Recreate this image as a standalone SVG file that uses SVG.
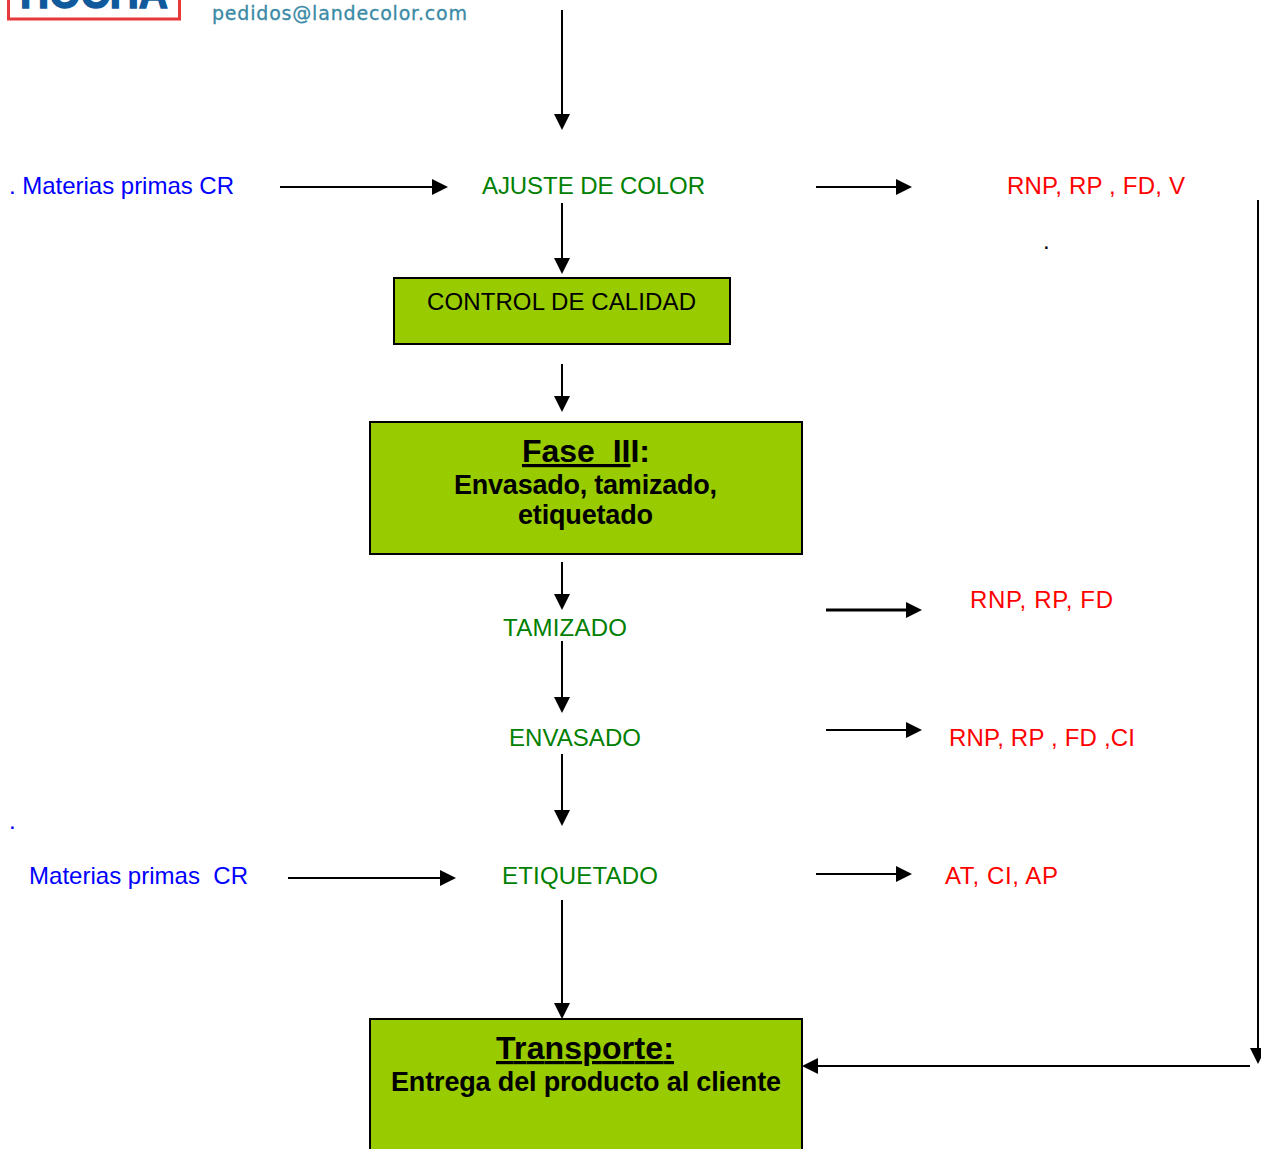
<svg xmlns="http://www.w3.org/2000/svg" width="1261" height="1149" viewBox="0 0 1261 1149">
<style>
text{font-family:"Liberation Sans",Arial,sans-serif;font-size:24px}
.b{fill:#0000ff}.g{fill:#008000}.r{fill:#ff0000}.k{fill:#000}
.box{fill:#99cc00;stroke:#000;stroke-width:2}
.c line{stroke:#000;stroke-width:2}
.h{font-size:32px;font-weight:bold}
.s{font-size:27px;font-weight:bold}
.m{text-anchor:middle}
</style>
<defs>
<marker id="a" markerUnits="userSpaceOnUse" markerWidth="16" markerHeight="16" refX="12" refY="8" orient="auto"><path d="M0 0L16 8L0 16Z" fill="#000"/></marker>
</defs>
<g id="logo">
<rect x="8.500" y="-20" width="171" height="39" fill="#fff" stroke="#e8393a" stroke-width="3"/>
<text x="20" y="8" textLength="148" lengthAdjust="spacingAndGlyphs" style="font-size:44px;font-weight:bold;fill:#0f5a9c;stroke:#0f5a9c;stroke-width:1.5">HOCHA</text>
<text x="212" y="20" textLength="255" style="font-size:19px;font-family:'DejaVu Sans',sans-serif;fill:#3a8aa6;stroke:#3a8aa6;stroke-width:.3">pedidos@landecolor.com</text>
</g>
<g class="c">
<line x1="562" y1="10" x2="562" y2="126" marker-end="url(#a)"/>
<line x1="280" y1="187" x2="444" y2="187" marker-end="url(#a)"/>
<line x1="816" y1="187" x2="908" y2="187" marker-end="url(#a)"/>
<line x1="562" y1="203" x2="562" y2="270" marker-end="url(#a)"/>
<line x1="562" y1="364" x2="562" y2="408" marker-end="url(#a)"/>
<line x1="562" y1="562" x2="562" y2="606" marker-end="url(#a)"/>
<line x1="826" y1="610" x2="918" y2="610" marker-end="url(#a)" style="stroke-width:3"/>
<line x1="562" y1="641" x2="562" y2="709" marker-end="url(#a)"/>
<line x1="826" y1="730" x2="918" y2="730" marker-end="url(#a)"/>
<line x1="562" y1="754" x2="562" y2="822" marker-end="url(#a)"/>
<line x1="288" y1="878" x2="452" y2="878" marker-end="url(#a)"/>
<line x1="816" y1="874" x2="908" y2="874" marker-end="url(#a)"/>
<line x1="562" y1="900" x2="562" y2="1015" marker-end="url(#a)"/>
<line x1="1258" y1="200" x2="1258" y2="1060" marker-end="url(#a)"/>
<line x1="1250" y1="1066" x2="806" y2="1066" marker-end="url(#a)"/>
</g>
<g id="n-mp1"><text x="9" y="194" class="b" textLength="225">. Materias primas CR</text></g>
<g id="n-ajuste"><text x="482" y="194" class="g" textLength="223">AJUSTE DE COLOR</text></g>
<g id="n-r1"><text x="1007" y="194" class="r" textLength="178">RNP, RP , FD, V</text></g>
<g id="n-dot1"><text x="1043" y="249" class="k">.</text></g>
<g id="n-control"><rect class="box" x="394" y="278" width="336" height="66"/><text x="427" y="310" class="k" textLength="269">CONTROL DE CALIDAD</text></g>
<g id="n-fase"><rect class="box" x="370" y="422" width="432" height="132"/>
<text x="586" y="462" class="m h" xml:space="preserve"><tspan text-decoration="underline">Fase  II</tspan>I:</text>
<text x="454" y="494" class="s" textLength="263">Envasado, tamizado,</text>
<text x="518" y="524" class="s" textLength="135">etiquetado</text></g>
<g id="n-tam"><text x="503" y="636" class="g" textLength="124">TAMIZADO</text></g>
<g id="n-r2"><text x="970" y="608" class="r" textLength="143">RNP, RP, FD</text></g>
<g id="n-env"><text x="509" y="746" class="g" textLength="132">ENVASADO</text></g>
<g id="n-r3"><text x="949" y="746" class="r" textLength="186">RNP, RP , FD ,CI</text></g>
<g id="n-dot2"><text x="9" y="829" class="b">.</text></g>
<g id="n-mp2"><text x="29" y="884" class="b" xml:space="preserve" textLength="219">Materias primas  CR</text></g>
<g id="n-eti"><text x="502" y="884" class="g" textLength="156">ETIQUETADO</text></g>
<g id="n-r4"><text x="945" y="884" class="r" textLength="113">AT, CI, AP</text></g>
<g id="n-trans"><rect class="box" x="370" y="1019" width="432" height="150"/>
<text x="496" y="1059" class="h" style="text-decoration:underline" textLength="178">Transporte:</text>
<text x="391" y="1091" class="s" textLength="390">Entrega del producto al cliente</text></g>
</svg>
